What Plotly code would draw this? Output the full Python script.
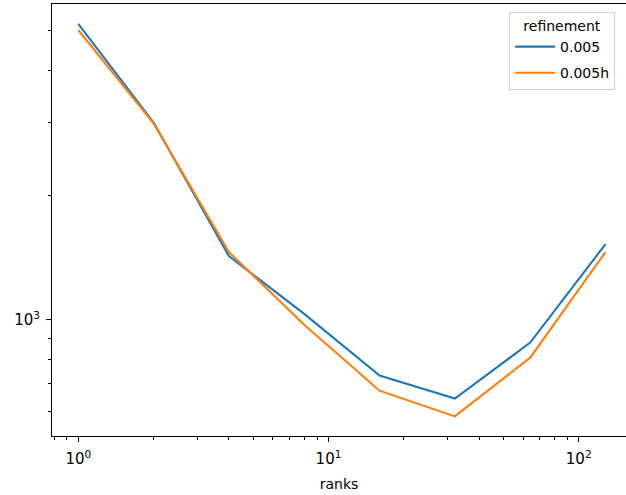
import plotly.graph_objects as go

ranks = [1, 2, 4, 8, 16, 32, 64, 128]
series_names = ["0.005", "0.005h"]
values_005 = [5200, 3000, 1426, 1034, 733, 645, 881, 1525]
values_005h = [5024, 2987, 1459, 973, 674, 584, 810, 1459]
colors = ["#1f77b4", "#ff7f0e"]

x_major = [1, 10, 100]
x_major_text = ["10<sup>0</sup>", "10<sup>1</sup>", "10<sup>2</sup>"]
x_minor = [0.8, 0.9, 2, 3, 4, 5, 6, 7, 8, 9, 20, 30, 40, 50, 60, 70, 80, 90]
y_major = [1000]
y_major_text = ["10<sup>3</sup>"]
y_minor = [600, 700, 800, 900, 2000, 3000, 4000, 5000]

fig = go.Figure()
for name, vals, c in zip(series_names, [values_005, values_005h], colors):
    fig.add_trace(go.Scatter(x=ranks, y=vals, mode="lines", name=name,
                             legendgroup=name,
                             line=dict(color=c, width=2.1)))

font = dict(family="DejaVu Sans", size=14, color="black")
tickfont = dict(family="DejaVu Sans", size=15, color="black")
fig.update_layout(
    width=626, height=495,
    margin=dict(l=52, r=0, t=4, b=59),
    paper_bgcolor="white", plot_bgcolor="white",
    font=font,
    showlegend=True,
    legend=dict(
        title=dict(text="refinement", side="top center", font=font),
        x=0.981, y=0.982, xanchor="right", yanchor="top",
        bgcolor="rgba(255,255,255,0.8)", bordercolor="#d0d0d0", borderwidth=1,
        font=font, tracegroupgap=5, itemwidth=40,
    ),
    xaxis=dict(
        type="log", range=[-0.105, 2.189],
        tickmode="array", tickvals=x_major, ticktext=x_major_text,
        ticks="outside", ticklen=5, tickwidth=1.1, tickcolor="black",
        showline=True, linecolor="black", linewidth=1.1, mirror=True,
        showgrid=False, zeroline=False,
        minor=dict(tickmode="array", tickvals=x_minor, ticks="outside",
                   ticklen=3, tickwidth=0.8, tickcolor="black", showgrid=False),
        title=dict(text="ranks", font=font, standoff=12),
        tickfont=tickfont, ticklabelstandoff=4,
    ),
    yaxis=dict(
        type="log", range=[2.719, 3.764],
        tickmode="array", tickvals=y_major, ticktext=y_major_text,
        ticks="outside", ticklen=5, tickwidth=1.1, tickcolor="black",
        showline=True, linecolor="black", linewidth=1.1, mirror=False,
        showgrid=False, zeroline=False,
        minor=dict(tickmode="array", tickvals=y_minor, ticks="outside",
                   ticklen=3, tickwidth=0.8, tickcolor="black", showgrid=False),
        tickfont=tickfont, ticklabelstandoff=3,
    ),
)

fig.write_html("out.html")
